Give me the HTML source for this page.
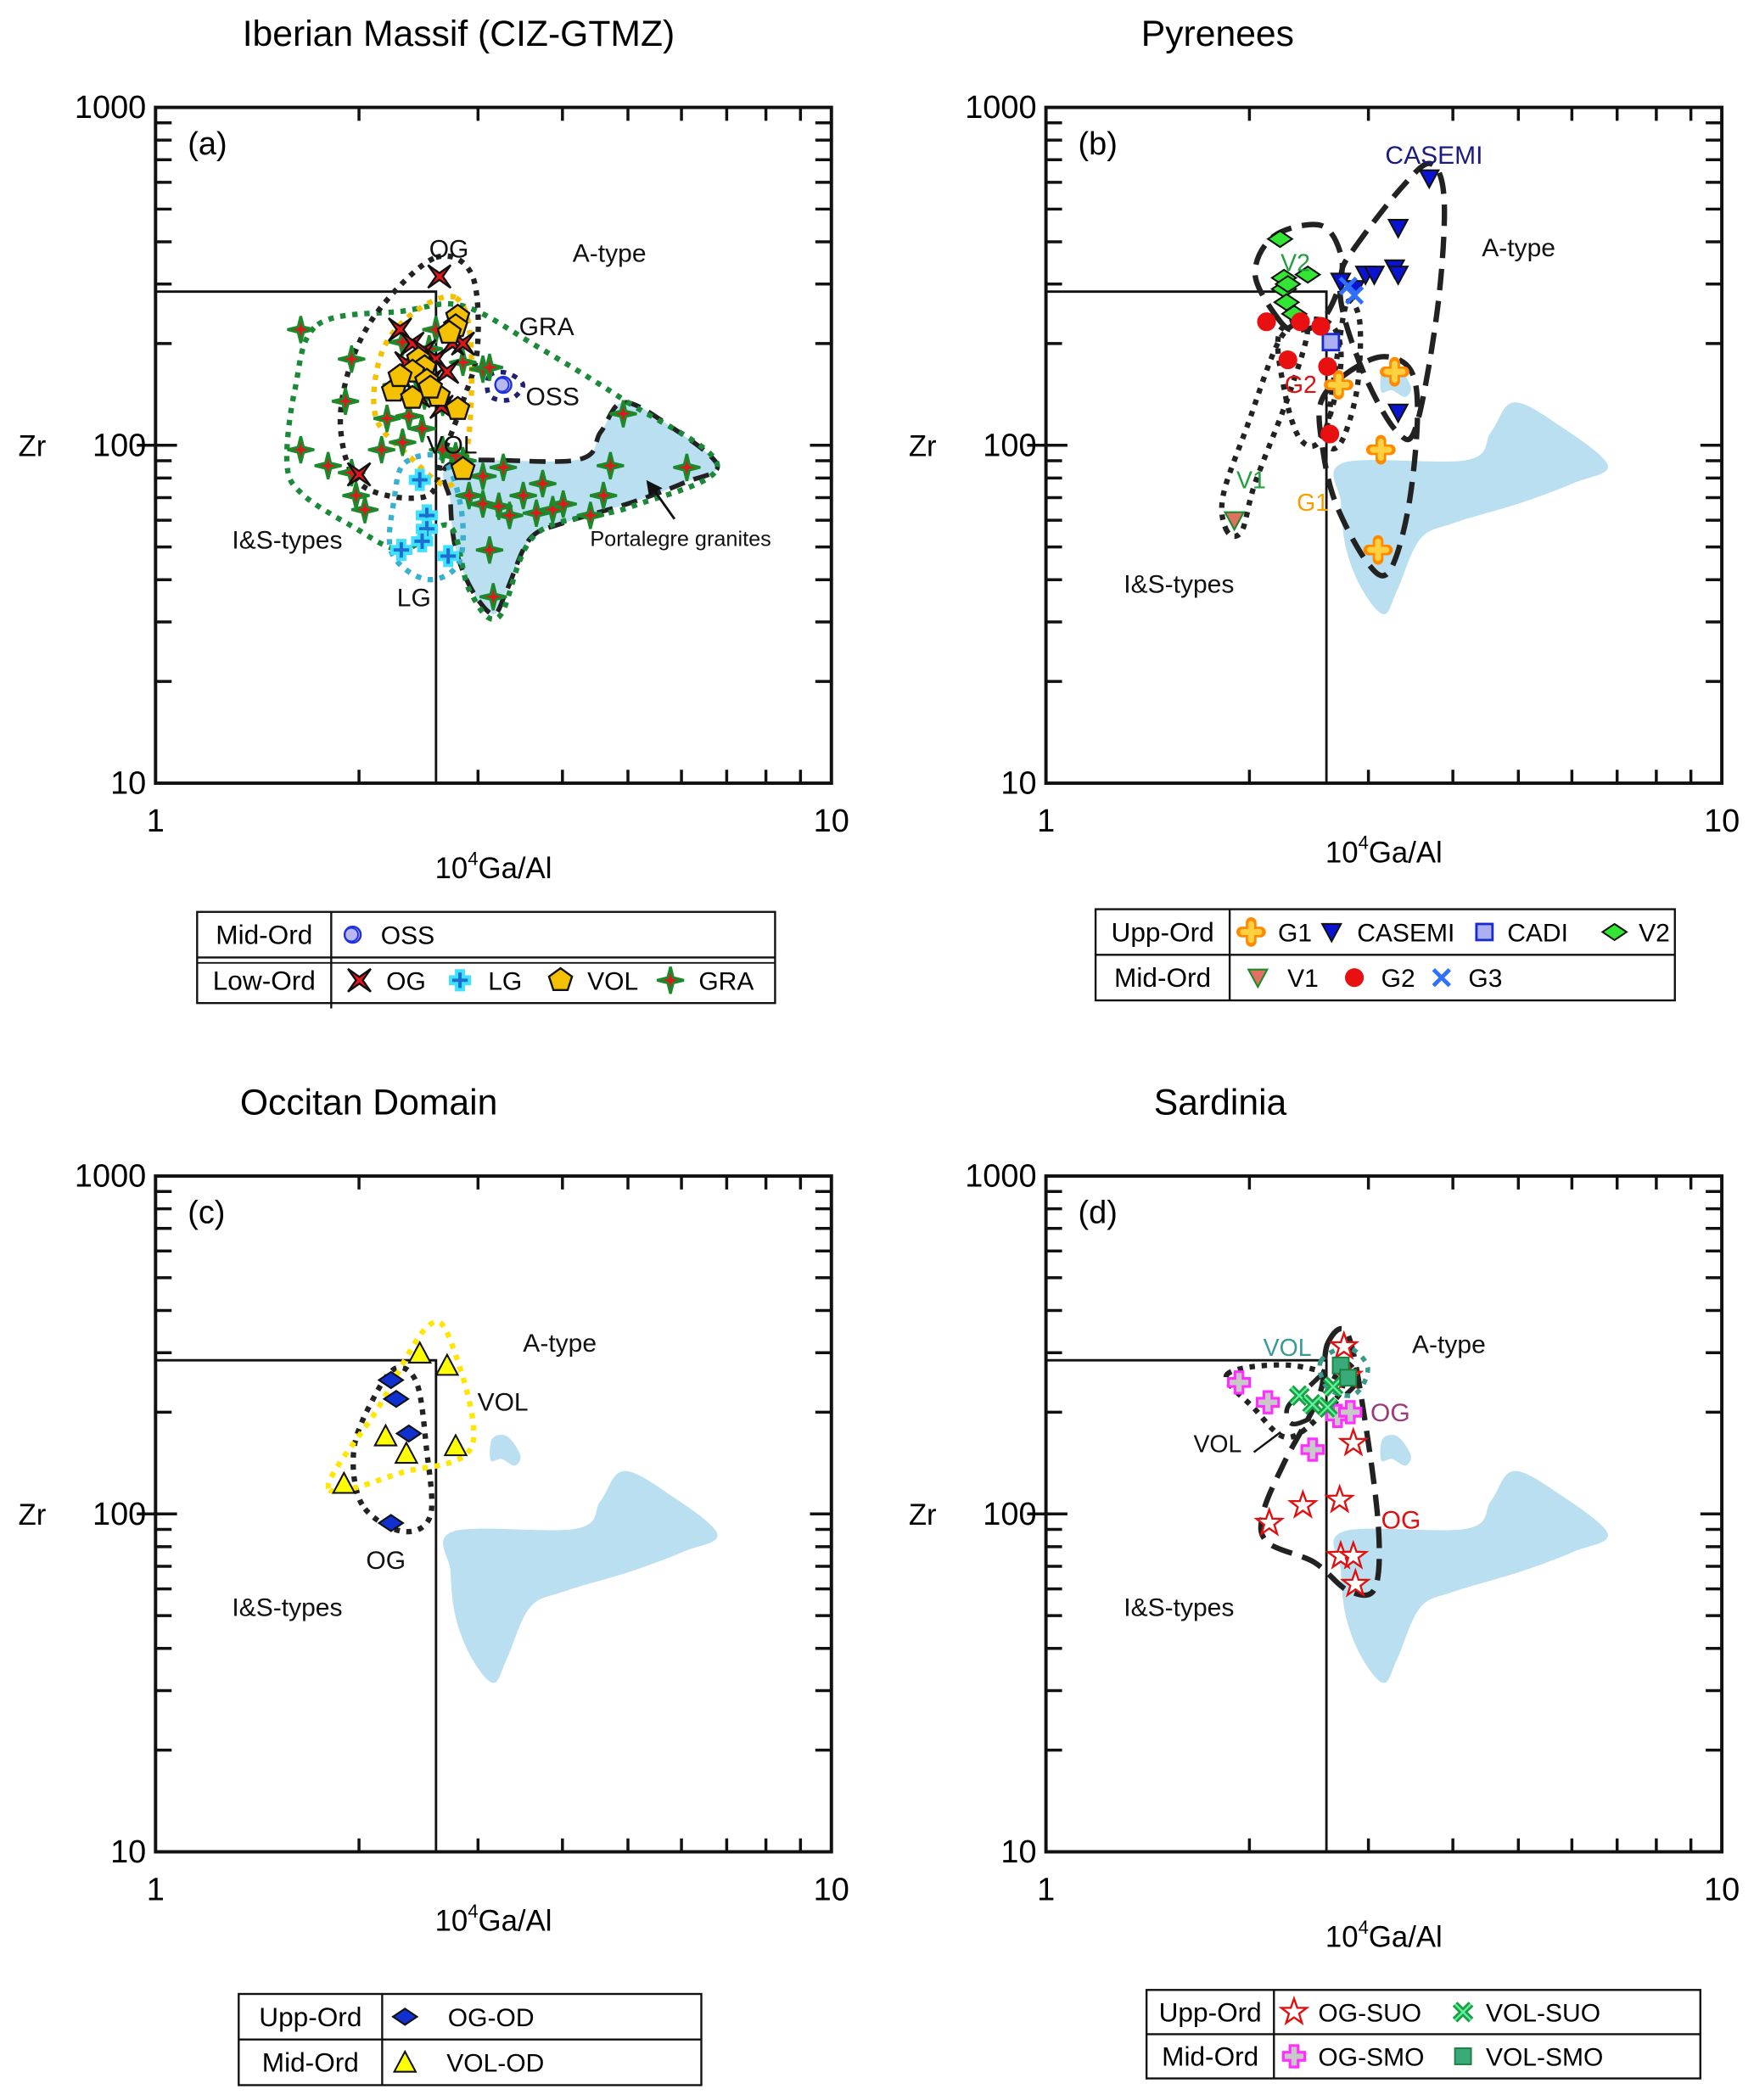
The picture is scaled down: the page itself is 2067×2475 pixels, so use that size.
<!DOCTYPE html>
<html><head><meta charset="utf-8"><style>
html,body{margin:0;padding:0;background:#fff}
svg{display:block}
text{font-family:"Liberation Sans",Arial,sans-serif}
</style></head><body>
<svg id="fig" xmlns="http://www.w3.org/2000/svg" width="2067" height="2475" viewBox="0 0 1308 1566">
<rect width="1308" height="1566" fill="#fff"/>
</svg>
<script>
// ---------- DATA (x = 10^4 Ga/Al, y = Zr ppm) ----------
// Panel (a)
const aGRAx=[1.64,1.95,1.91,1.64,1.80,1.95,2.66,2.27,2.54,2.85,2.85,3.05,3.12,3.05,3.27,2.91,3.05,3.22,3.34,3.50,3.74,3.66,3.87,4.01,4.40,4.60,4.71,4.92,6.11,3.12,3.16,1.98,2.04,2.16,2.32,2.37,2.48,2.66,2.78,2.43,2.32,2.6,2.2,2.5];
const aGRAy=[220,180,135,97,87,83,134,151,193,176,90,168,170,81,86,71,67,66,62,71,77,63,64.5,67,62,71,87,124,86,49,35.6,71,64.5,97,102,122,112,97,93,161,202,220,120,140];
const aOGx=[2.63,2.3,2.4,2.5,2.6,2.7,2.55,2.45,2.65,2.75,2.0,2.35,2.85];
const aOGy=[316,220,200,190,180,165,155,140,130,200,82,175,200];
const aVOLx=[2.8,2.78,2.72,2.45,2.5,2.4,2.52,2.25,2.4,2.62,2.8,2.85,2.3,2.55];
const aVOLy=[240,225,215,180,170,165,155,145,138,140,128,85,160,148];
const aLGx=[2.46,2.52,2.52,2.48,2.31,2.71];
const aLGy=[79,62,56.6,52,49,47];
const aOSSx=[3.27];
const aOSSy=[151];
// Panel (b)
const bG1x=[3.28,2.71,3.13,3.10];
const bG1y=[165,151,97,49];
const bCASx=[3.69,3.32,3.28,3.32,2.97,3.06,2.86,3.32,2.73];
const bCASy=[617,440,334,320,320,320,290,125,305];
const bCADIx=[2.64];
const bCADIy=[202];
const bV2x=[2.22,2.25,2.25,2.27,2.28,2.33,2.44];
const bV2y=[408,313,290,265,300,245,320];
const bV1x=[1.90];
const bV1y=[60];
const bG2x=[2.28,2.61,2.63,2.38,2.55,2.12];
const bG2y=[179,171,108,232,225,232];
const bG3x=[2.86,2.80];
const bG3y=[278,296];
// Panel (c)
const cOGx=[2.23,2.27,2.37,2.23];
const cOGy=[249,219,173,94];
const cVOLx=[2.46,2.70,2.19,2.35,2.78,1.90];
const cVOLy=[299,275,170,151,159,123];
// Panel (d)
const dOGSUOx=[2.76,2.80,2.85,2.14,2.40,2.72,2.73,2.85,2.87];
const dOGSUOy=[313,256,162,94,106,110,75,75,62];
const dOGSMOx=[1.93,2.13,2.48,2.70,2.82];
const dOGSMOy=[245,214,155,195,200];
const dVOLSUOx=[2.37,2.48,2.61,2.66];
const dVOLSUOy=[224,211,207,238];
const dVOLSMOx=[2.73,2.80];
const dVOLSMOy=[275,253];
// axis ticks
const xMajor=[1,10];
const xMinor=[2,3,4,5,6,7,8,9];
const yMajor=[10,100,1000];
const yMinor=[20,30,40,50,60,70,80,90,200,300,400,500,600,700,800,900];
const divX=2.6, divY=285;

// ---------- helpers ----------
const NS="http://www.w3.org/2000/svg";
const svg=document.getElementById('fig');
function el(tag,attrs,parent){const e=document.createElementNS(NS,tag);for(const k in attrs)e.setAttribute(k,attrs[k]);(parent||svg).appendChild(e);return e;}
function txt(s,x,y,size,opts,parent){const t=el('text',Object.assign({x:x,y:y,'font-size':size},opts||{}),parent);t.textContent=s;return t;}
function axes(x0,y0){return {X:v=>x0+504*Math.log10(v),Y:v=>y0+504-252*Math.log10(v/10)};}
function smooth(pts){let d='';const n=pts.length;for(let i=0;i<n;i++){const p0=pts[(i-1+n)%n],p1=pts[i],p2=pts[(i+1)%n],p3=pts[(i+2)%n];if(i===0)d+='M'+p1[0]+','+p1[1];const c1=[p1[0]+(p2[0]-p0[0])/6,p1[1]+(p2[1]-p0[1])/6],c2=[p2[0]-(p3[0]-p1[0])/6,p2[1]-(p3[1]-p1[1])/6];d+='C'+c1[0].toFixed(1)+','+c1[1].toFixed(1)+' '+c2[0].toFixed(1)+','+c2[1].toFixed(1)+' '+p2[0]+','+p2[1];}return d+'Z';}
function starPath(cx,cy,n,ro,ri,rot){let d='';for(let i=0;i<2*n;i++){const r=i%2?ri:ro;const a=rot+Math.PI*i/n-Math.PI/2;d+=(i?'L':'M')+(cx+r*Math.cos(a)).toFixed(1)+','+(cy+r*Math.sin(a)).toFixed(1);}return d+'Z';}
function plusPath(cx,cy,a,b){return `M${cx-b},${cy-a}h${2*b}v${a-b}h${a-b}v${2*b}h${-(a-b)}v${a-b}h${-2*b}v${-(a-b)}h${-(a-b)}v${-2*b}h${a-b}Z`;}

const M={
 gra:(g,x,y)=>el('path',{d:starPath(x,y,4,10,2.8,0),fill:'#e8141c',stroke:'#1a8a2a','stroke-width':2},g),
 ogx:(g,x,y)=>el('path',{d:starPath(x,y,4,12,2.5,Math.PI/4),fill:'#e8141c',stroke:'#111','stroke-width':1.5},g),
 lg:(g,x,y)=>{el('path',{d:plusPath(x,y,7,2.5),fill:'#1a6fd0',stroke:'#40e0ff','stroke-width':2.5},g);},
 oss:(g,x,y)=>{el('circle',{cx:x,cy:y,r:6,fill:'#b8b8f0',stroke:'#2030e0','stroke-width':1.5},g);el('circle',{cx:x-1,cy:y,r:5,fill:'none',stroke:'#2030e0','stroke-width':1.2},g);},
 g1:(g,x,y)=>{el('path',{d:`M${x-7},${y}H${x+7}M${x},${y-7}V${y+7}`,stroke:'#ff8a00','stroke-width':8,'stroke-linecap':'round'},g);el('path',{d:`M${x-6},${y}H${x+6}M${x},${y-6}V${y+6}`,stroke:'#ffd040','stroke-width':4.5,'stroke-linecap':'round'},g);},
 dtri:(g,x,y,f,s)=>el('path',{d:`M${x-7},${y-6}L${x+7},${y-6}L${x},${y+7}Z`,fill:f||'#0a14d0',stroke:s||'#111','stroke-width':1.3},g),
 sq:(g,x,y,f,s)=>el('rect',{x:x-6,y:y-6,width:12,height:12,fill:f||'#aab0f0',stroke:s||'#1a2ad0','stroke-width':1.8},g),
 dia:(g,x,y,f)=>el('path',{d:`M${x-9},${y}L${x},${y-6}L${x+9},${y}L${x},${y+6}Z`,fill:f||'#33e633',stroke:'#111','stroke-width':1.3},g),
 dot:(g,x,y)=>el('circle',{cx:x,cy:y,r:7,fill:'#e81010'},g),
 xb:(g,x,y,c,w)=>el('path',{d:`M${x-6},${y-6}L${x+6},${y+6}M${x+6},${y-6}L${x-6},${y+6}`,stroke:c||'#3070ff','stroke-width':w||3},g),
 utri:(g,x,y)=>el('path',{d:`M${x-8},${y+7}L${x+8},${y+7}L${x},${y-8}Z`,fill:'#ffff00',stroke:'#111','stroke-width':1.3},g),
 rstar:(g,x,y)=>el('path',{d:starPath(x,y,5,10,4,0),fill:'#fff',stroke:'#e01010','stroke-width':1.5},g),
 mplus:(g,x,y)=>el('path',{d:plusPath(x,y,8,3),fill:'#c8c8c8',stroke:'#ff30ff','stroke-width':2},g),
 gx:(g,x,y)=>{el('path',{d:`M${x-6},${y-6}L${x+6},${y+6}M${x+6},${y-6}L${x-6},${y+6}`,stroke:'#1aa040','stroke-width':5},g);el('path',{d:`M${x-6},${y-6}L${x+6},${y+6}M${x+6},${y-6}L${x-6},${y+6}`,stroke:'#60f0a0','stroke-width':1.5},g);},
 gsq:(g,x,y)=>el('rect',{x:x-6,y:y-6,width:12,height:12,fill:'#3aaa78',stroke:'#1a8040','stroke-width':1.2},g)
};
M.pent=(g,x,y)=>{let d='';for(let i=0;i<5;i++){const a=-Math.PI/2+2*Math.PI*i/5;d+=(i?'L':'M')+(x+9*Math.cos(a)).toFixed(1)+','+(y+9*Math.sin(a)).toFixed(1);}el('path',{d:d+'Z',fill:'#f5c000',stroke:'#111','stroke-width':1.5},g);};

function series(g,ax,xs,ys,fn,name){
 for(let i=0;i<xs.length;i++){
  const m=el('g',{},g);
  
  
  fn(m,ax.X(xs[i]),ax.Y(ys[i]));
 }
}

const porta=[[338,345],[430,343],[448,322],[465,300],[500,318],[535,347],[510,360],[470,375],[420,390],[395,402],[378,440],[368,458],[352,440],[340,410],[336,375]];
const blob=[[366,292],[367,276],[378,274],[388,288],[384,296],[374,291]];
function shift(pts,dx,dy){return pts.map(p=>[p[0]+dx,p[1]+dy]);}

function panel(id,x0,y0,title,tx,letter,xlabY,withBlob,drawFn){
 const g=el('g',{});
 
 
 const ax=axes(x0,y0);
 const dx=x0-116, dy=y0-80;
 const pf=el('path',{d:smooth(shift(porta,dx,dy)),fill:'#b9dff0',stroke:'none'},g);
 
 
 if(withBlob){const b=el('path',{d:smooth(shift(blob,dx,dy)),fill:'#b9dff0'},g);}
 const fr=el('rect',{x:x0,y:y0,width:504,height:504,fill:'none',stroke:'#111','stroke-width':2.5},g);
 
 const tg=el('g',{stroke:'#111','stroke-width':2.2},g);
 xMinor.forEach(v=>{const x=ax.X(v);el('line',{x1:x,y1:y0,x2:x,y2:y0+10},tg);el('line',{x1:x,y1:y0+504,x2:x,y2:y0+494},tg);});
 yMinor.forEach(v=>{const y=ax.Y(v);el('line',{x1:x0,y1:y,x2:x0+12,y2:y},tg);el('line',{x1:x0+504,y1:y,x2:x0+492,y2:y},tg);});
 [100].forEach(v=>{const y=ax.Y(v);el('line',{x1:x0-14,y1:y,x2:x0+16,y2:y},tg);el('line',{x1:x0+504,y1:y,x2:x0+488,y2:y},tg);});
 yMajor.forEach(v=>{const t=txt(String(v),x0-7,ax.Y(v)+8,24,{'text-anchor':'end'},g);});
 xMajor.forEach(v=>{const t=txt(String(v),ax.X(v),y0+540,24,{'text-anchor':'middle'},g);});
 const dl=el('path',{d:`M${x0},${ax.Y(divY)}H${ax.X(divX)}V${y0+504}`,fill:'none',stroke:'#111','stroke-width':1.8},g);
 
 const tt=txt(title,tx,y0-46,27,{'text-anchor':'middle'},g);
 const lt=txt(letter,x0+24,y0+35,24,{},g);
 const zr=txt('Zr',x0-92,ax.Y(100)+8,22,{'text-anchor':'middle'},g);
 const xt=el('text',{x:x0+252,y:xlabY,'font-size':22,'text-anchor':'middle'},g);
 
 xt.innerHTML='10<tspan dy="-10" font-size="14">4</tspan><tspan dy="10">Ga/Al</tspan>';
 drawFn(g,ax);
 return g;
}
function outline(g,pts,color,dash,name,w){const p=el('path',{d:smooth(pts),fill:'none',stroke:color,'stroke-width':w||4,'stroke-dasharray':dash},g);return p;}
function lab(g,s,x,y,size,color,name,anchor){const t=txt(s,x,y,size,{fill:color||'#111','text-anchor':anchor||'start'},g);return t;}
const DOT='4 5', DASH='16 8';

// ---------- Panel A ----------
panel('a',116,80,'Iberian Massif (CIZ-GTMZ)',342,'(a)',655,false,(g,ax)=>{
 outline(g,porta.concat([]),'#222','12 7','portalegre-outline',3.5);
 outline(g,[[237,242],[300,232],[345,228],[400,258],[465,298],[535,347],[470,378],[400,398],[372,460],[350,440],[335,392],[300,410],[262,392],[225,368],[214,345],[220,290]],'#1a8a3a',DOT,'gra-field');
 outline(g,[[325,192],[352,205],[356,260],[345,300],[330,340],[318,370],[270,362],[254,320],[262,270],[285,228]],'#222',DOT,'og-field');
 outline(g,[[340,222],[351,255],[349,330],[335,362],[305,340],[280,310],[285,262],[310,232]],'#f5c000',DOT,'vol-field');
 outline(g,[[302,345],[330,342],[344,380],[342,420],[318,432],[292,412],[294,372]],'#3ab0d0',DOT,'lg-field');
 outline(g,[[365,280],[378,278],[390,287],[380,298],[365,295]],'#202070',DOT,'oss-field',3.5);
 series(g,ax,aGRAx,aGRAy,M.gra,'gra');
 series(g,ax,aOGx,aOGy,M.ogx,'og');
 series(g,ax,aVOLx,aVOLy,M.pent,'vol');
 series(g,ax,aLGx,aLGy,M.lg,'lg');
 series(g,ax,aOSSx,aOSSy,M.oss,'oss');
 lab(g,'OG',320,192,19,'#111','og-label');lab(g,'A-type',427,195,19,'#111','a-type-label');
 lab(g,'GRA',387,250,19,'#111','gra-label');lab(g,'OSS',392,302,19,'#111','oss-label');
 lab(g,'VOL',318,338,19,'#111','vol-label');lab(g,'LG',296,452,19,'#111','lg-label');
 lab(g,'I&S-types',173,409,19,'#111','is-types-label');lab(g,'Portalegre granites',440,407,16,'#111','portalegre-label');
 const ar=el('path',{d:'M503,387L486,363',stroke:'#111','stroke-width':1.8,fill:'none'},g);
 el('path',{d:'M482,358L494,364L484,370Z',fill:'#111'},g);
});

// ---------- Panel B ----------
panel('b',780,80,'Pyrenees',908,'(b)',643,true,(g,ax)=>{
 outline(g,[[1010,185],[1045,140],[1067,122],[1077,150],[1072,230],[1056,318],[1042,322],[1020,285],[1002,235],[1000,205]],'#222',DASH,'casemi-field');
 outline(g,[[955,240],[936,205],[950,176],[985,168],[1000,190],[998,215],[985,240],[968,246]],'#222',DASH,'v2-field');
 outline(g,[[985,300],[1002,280],[1030,266],[1052,276],[1057,312],[1050,380],[1036,426],[1020,420],[996,375],[986,332]],'#222',DASH,'g1-field');
 outline(g,[[915,396],[912,370],[930,318],[955,252],[975,244],[962,292],[936,360],[926,396]],'#222',DOT,'v1-field');
 outline(g,[[955,246],[990,240],[1000,270],[986,326],[970,328],[958,292]],'#222',DOT,'g2-field');
 outline(g,[[1005,225],[1014,240],[1012,290],[1000,330],[990,326],[998,260]],'#222',DOT,'g3-field');
 series(g,ax,bG1x,bG1y,M.g1,'g1');
 series(g,ax,bCASx,bCASy,(m,x,y)=>M.dtri(m,x,y),'casemi');
 series(g,ax,bCADIx,bCADIy,(m,x,y)=>M.sq(m,x,y),'cadi');
 series(g,ax,bV2x,bV2y,(m,x,y)=>M.dia(m,x,y),'v2');
 series(g,ax,bV1x,bV1y,(m,x,y)=>M.dtri(m,x,y,'#e07060','#1a8a2a'),'v1');
 series(g,ax,bG2x,bG2y,M.dot,'g2');
 series(g,ax,bG3x,bG3y,(m,x,y)=>M.xb(m,x,y),'g3');
 lab(g,'CASEMI',1033,122,19,'#1a1a80','casemi-label');lab(g,'A-type',1105,191,19,'#111','a-type-label');
 lab(g,'V2',955,202,18,'#20a040','v2-label');lab(g,'G2',958,293,18,'#e01010','g2-label');
 lab(g,'V1',922,364,18,'#20a040','v1-label');lab(g,'G1',967,381,18,'#f5a000','g1-label');
 lab(g,'I&S-types',838,442,19,'#111','is-types-label');
});

// ---------- Panel C ----------
panel('c',116,877,'Occitan Domain',275,'(c)',1440,true,(g,ax)=>{
 outline(g,[[270,1122],[264,1080],[280,1040],[296,1020],[311,1032],[318,1080],[321,1130],[300,1142]],'#222',DOT,'og-od-field');
 outline(g,[[245,1110],[282,1050],[318,990],[336,1000],[352,1078],[300,1098]],'#ffe600',DOT,'vol-od-field');
 series(g,ax,cOGx,cOGy,(m,x,y)=>M.dia(m,x,y,'#1030d0'),'og-od');
 series(g,ax,cVOLx,cVOLy,M.utri,'vol-od');
 lab(g,'A-type',390,1008,19,'#111','a-type-label');lab(g,'VOL',356,1052,19,'#111','vol-label');
 lab(g,'OG',273,1170,19,'#111','og-label');lab(g,'I&S-types',173,1205,19,'#111','is-types-label');
});

// ---------- Panel D ----------
panel('d',780,877,'Sardinia',910,'(d)',1452,true,(g,ax)=>{
 outline(g,[[990,1002],[1005,995],[1018,1060],[1028,1140],[1025,1185],[1005,1186],[980,1165],[945,1150],[942,1128],[958,1090],[984,1040]],'#222',DASH,'og-suo-field');
 outline(g,[[915,1025],[960,1018],[1000,1030],[988,1052],[960,1072],[935,1050]],'#222',DOT,'og-smo-field');
 outline(g,[[960,1050],[975,1035],[1000,1015],[1012,1030],[990,1050],[965,1062]],'#222',DASH,'vol-suo-field',3.5);
 outline(g,[[985,1015],[1005,1005],[1020,1020],[1010,1040],[990,1035]],'#3a9a88',DOT,'vol-smo-field',3.5);
 series(g,ax,dOGSUOx,dOGSUOy,M.rstar,'og-suo');
 series(g,ax,dOGSMOx,dOGSMOy,M.mplus,'og-smo');
 series(g,ax,dVOLSUOx,dVOLSUOy,M.gx,'vol-suo');
 series(g,ax,dVOLSMOx,dVOLSMOy,M.gsq,'vol-smo');
 lab(g,'VOL',942,1011,18,'#3a9a98','vol-smo-label');lab(g,'A-type',1053,1009,19,'#111','a-type-label');
 lab(g,'OG',1022,1060,19,'#9a3a7a','og-smo-label');lab(g,'VOL',890,1083,18,'#111','vol-label');
 lab(g,'OG',1030,1140,19,'#e01010','og-suo-label');lab(g,'I&S-types',838,1205,19,'#111','is-types-label');
 const ar=el('path',{d:'M935,1083L955,1068',stroke:'#111','stroke-width':1.5},g);
});

// ---------- Legends ----------
function legend(name,x,y,w,h,colX,rows){
 const g=el('g',{});
 
 
 el('rect',{x:x,y:y,width:w,height:h,fill:'#fff',stroke:'#111','stroke-width':1.5},g);
 el('line',{x1:x,y1:y+h/2,x2:x+w,y2:y+h/2,stroke:'#111','stroke-width':1.5},g);
 el('line',{x1:colX,y1:y,x2:colX,y2:y+h,stroke:'#111','stroke-width':1.5},g);
 rows.forEach((r,i)=>{
  const cy=y+h/4+i*h/2;
  const rt=txt(r.label,(x+colX)/2,cy+7,20,{'text-anchor':'middle'},g);
  
  r.items.forEach(it=>{
   const e=el('g',{},g);
   
   
   it.fn(e,it.mx,cy);
   txt(it.t,it.tx,cy+7,it.sz||19,{'font-family':it.serif?'"Liberation Serif",serif':'"Liberation Sans",sans-serif'},e);
  });
 });
 return g;
}
const la=legend('legend-a',147,680,431,68,247,[
 {label:'Mid-Ord',items:[{fn:M.oss,mx:263,t:'OSS',tx:284}]},
 {label:'Low-Ord',items:[{fn:M.ogx,mx:268,t:'OG',tx:288},{fn:M.lg,mx:343,t:'LG',tx:364},{fn:M.pent,mx:418,t:'VOL',tx:438},{fn:M.gra,mx:500,t:'GRA',tx:521}]}]);
el('line',{x1:147,y1:718,x2:578,y2:718,stroke:'#111','stroke-width':1.2},la);
el('line',{x1:247,y1:748,x2:247,y2:752,stroke:'#111','stroke-width':1.5},la);
legend('legend-b',817,678,432,68,917,[
 {label:'Upp-Ord',items:[{fn:M.g1,mx:933,t:'G1',tx:953,serif:true},{fn:(m,x,y)=>M.dtri(m,x,y),mx:993,t:'CASEMI',tx:1012,serif:true},{fn:(m,x,y)=>M.sq(m,x,y),mx:1107,t:'CADI',tx:1124,serif:true},{fn:(m,x,y)=>M.dia(m,x,y),mx:1204,t:'V2',tx:1222,serif:true}]},
 {label:'Mid-Ord',items:[{fn:(m,x,y)=>M.dtri(m,x,y,'#e07060','#1a8a2a'),mx:938,t:'V1',tx:960},{fn:M.dot,mx:1010,t:'G2',tx:1030},{fn:(m,x,y)=>M.xb(m,x,y),mx:1075,t:'G3',tx:1095}]}]);
legend('legend-c',178,1487,345,68,285,[
 {label:'Upp-Ord',items:[{fn:(m,x,y)=>M.dia(m,x,y,'#1030d0'),mx:302,t:'OG-OD',tx:334}]},
 {label:'Mid-Ord',items:[{fn:M.utri,mx:302,t:'VOL-OD',tx:333}]}]);
legend('legend-d',855,1484,413,66,950,[
 {label:'Upp-Ord',items:[{fn:M.rstar,mx:965,t:'OG-SUO',tx:983},{fn:M.gx,mx:1091,t:'VOL-SUO',tx:1108}]},
 {label:'Mid-Ord',items:[{fn:M.mplus,mx:965,t:'OG-SMO',tx:983},{fn:M.gsq,mx:1091,t:'VOL-SMO',tx:1108}]}]);
</script>
</body></html>
